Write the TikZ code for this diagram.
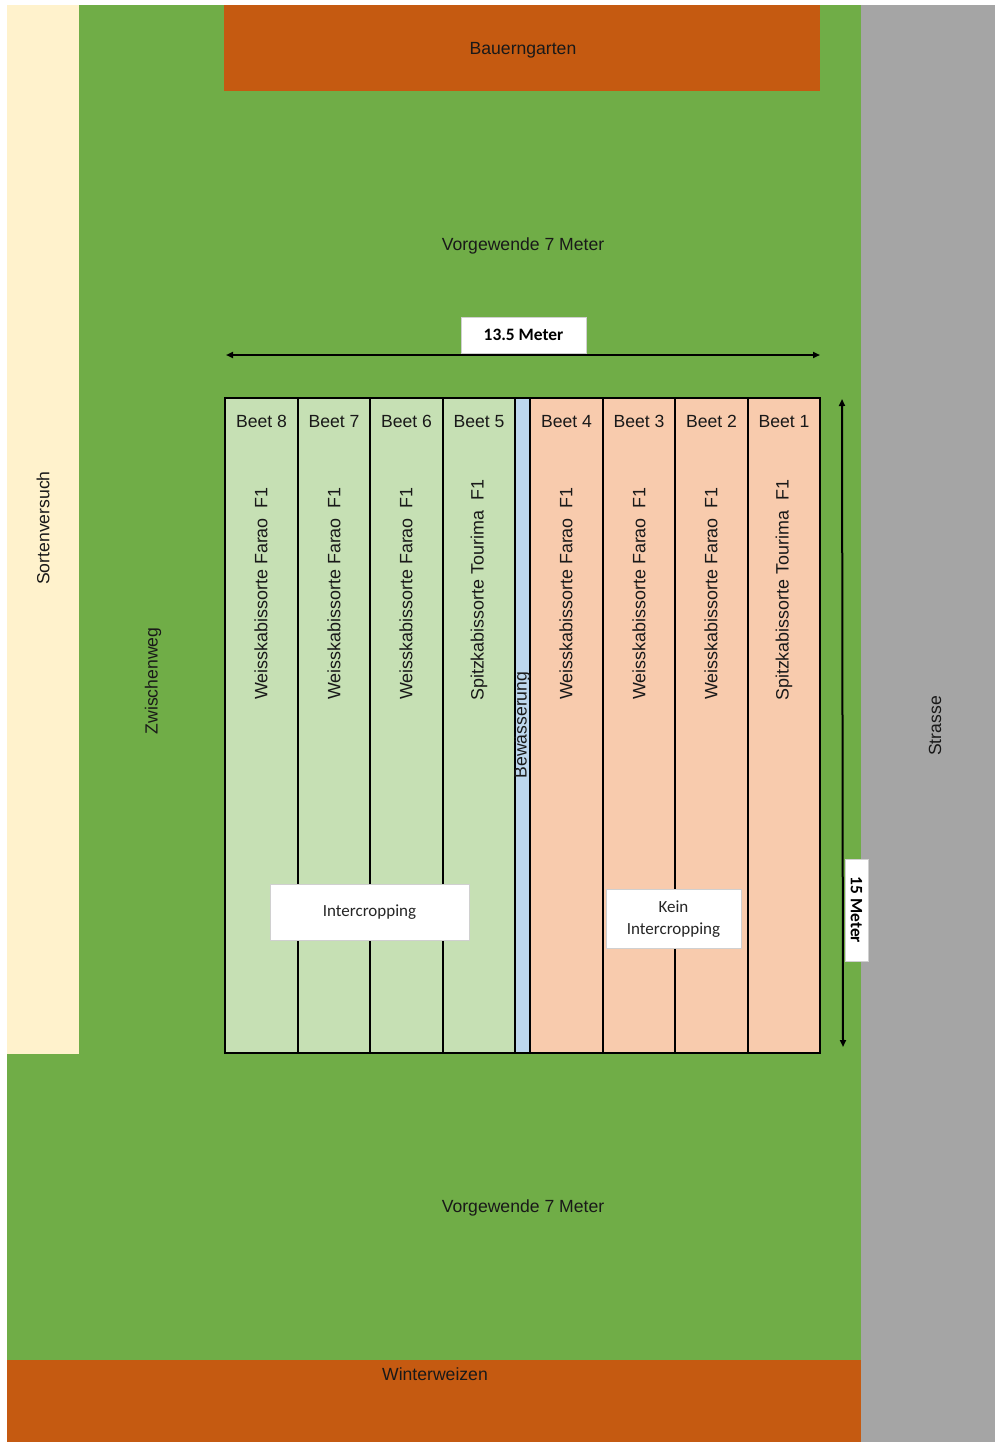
\documentclass[tikz,border=0pt]{standalone}
\usepackage{fontspec}
\setmainfont{Liberation Sans}
\newfontfamily\calib{Carlito}
\usetikzlibrary{arrows.meta}
\definecolor{feld}{HTML}{70AD47}
\definecolor{acker}{HTML}{C55A11}
\definecolor{creme}{HTML}{FFF2CC}
\definecolor{strasse}{HTML}{A5A5A5}
\definecolor{hgruen}{HTML}{C6E0B4}
\definecolor{pfirsich}{HTML}{F8CBAD}
\definecolor{wasser}{HTML}{BDD7EE}
\definecolor{rahmen}{HTML}{D0D0D0}
\tikzset{
  area/.style={draw=none, inner sep=0, outer sep=0},
  lbl/.style={inner sep=0, font=\fontsize{17.6}{21}\selectfont, text=black!90},
  vlbl/.style={lbl, font=\fontsize{17.9}{21}\selectfont, rotate=90, anchor=west},
  bedbox/.style={draw=black, line width=2pt, inner sep=0, outer sep=0, minimum width=72.5pt, minimum height=655pt},
  infobox/.style={draw=rahmen, line width=1pt, fill=white, inner sep=0, align=center, font=\calib\fontsize{17}{21.5}\selectfont, text=black!85},
  dimarrow/.style={line width=2pt, {Triangle[length=7pt,width=6pt]}-{Triangle[length=7pt,width=6pt]}}
}
\begin{document}
\begin{tikzpicture}[x=1pt,y=-1pt]
\useasboundingbox (0,0) rectangle (995,1442);
% background areas
\fill[white] (0,0) rectangle (995,1442);
\fill[feld] (79,5) rectangle (861,1360);
\fill[feld] (7,1053) rectangle (861,1360);
\fill[creme] (7,5) rectangle (79,1054);
\fill[strasse] (861,5) rectangle (995,1442);
\fill[acker] (224,5) rectangle (820,91);
\fill[acker] (7,1360) rectangle (861,1442);
% area labels
\node[lbl] (bauern) at (523,50) {Bauerngarten};
\node[lbl] (vgoben) at (523,246) {Vorgewende 7 Meter};
\node[lbl] (vgunten) at (523,1208) {Vorgewende 7 Meter};
\node[lbl] (winter) at (435,1374) {Winterweizen};
\node[lbl, rotate=90] (sorten) at (43,528) {Sortenversuch};
\node[lbl, rotate=90] (zwischen) at (153,681) {Zwischenweg};
\node[lbl, rotate=90] (str) at (935,726) {Strasse};
% beds
\node[bedbox, fill=hgruen] (b8) at (261.25,725.5) {};
\node[bedbox, fill=hgruen] (b7) at (333.75,725.5) {};
\node[bedbox, fill=hgruen] (b6) at (406.25,725.5) {};
\node[bedbox, fill=hgruen] (b5) at (478.75,725.5) {};
\node[draw=black, line width=2pt, fill=wasser, inner sep=0, outer sep=0, minimum width=15pt, minimum height=655pt] (bew) at (522.5,725.5) {};
\node[bedbox, fill=pfirsich] (b4) at (566.25,725.5) {};
\node[bedbox, fill=pfirsich] (b3) at (638.75,725.5) {};
\node[bedbox, fill=pfirsich] (b2) at (711.25,725.5) {};
\node[bedbox, fill=pfirsich] (b1) at (783.75,725.5) {};
% bed titles
\node[lbl] (t8) at (261.5,421.5) {Beet 8};
\node[lbl] (t7) at (334,421.5) {Beet 7};
\node[lbl] (t6) at (406.5,421.5) {Beet 6};
\node[lbl] (t5) at (479,421.5) {Beet 5};
\node[lbl] (t4) at (566.5,421.5) {Beet 4};
\node[lbl] (t3) at (639,421.5) {Beet 3};
\node[lbl] (t2) at (711.5,421.5) {Beet 2};
\node[lbl] (t1) at (784,421.5) {Beet 1};
% varieties
\node[vlbl] (s8) at (261,700) {Weisskabissorte Farao~~F1};
\node[vlbl] (s7) at (334,700) {Weisskabissorte Farao~~F1};
\node[vlbl] (s6) at (406,700) {Weisskabissorte Farao~~F1};
\node[vlbl] (s5) at (479,701) {Spitzkabissorte Tourima~~F1};
\node[vlbl] (s4) at (566,700) {Weisskabissorte Farao~~F1};
\node[vlbl] (s3) at (639,700) {Weisskabissorte Farao~~F1};
\node[vlbl] (s2) at (711,700) {Weisskabissorte Farao~~F1};
\node[vlbl] (s1) at (784,701) {Spitzkabissorte Tourima~~F1};
\node[lbl, rotate=90] (bewt) at (522.5,725) {Bewässerung};
% info boxes
\node[infobox, minimum width=199pt, minimum height=56pt] (inter) at (369.5,912.5) {Intercropping};
\node[infobox, minimum width=135pt, minimum height=59pt] (kein) at (673.5,919) {Kein\\Intercropping};
% dimensions
\coordinate (hL) at (226,355);
\coordinate (hR) at (820,355);
\draw[dimarrow] (hL) -- (hR);
\node[infobox, font=\calib\bfseries\fontsize{17.4}{20}\selectfont, text=black, minimum width=125pt, minimum height=36pt] (breite) at (523.5,335) {13.5 Meter};
\coordinate (vT) at (842,399);
\coordinate (vB) at (843,1047);
\draw[dimarrow] (vT) -- (vB);
\node[infobox, font=\calib\bfseries\fontsize{17.4}{20}\selectfont, text=black, rotate=-90, minimum width=102pt, minimum height=23pt] (laenge) at (856.5,910) {15 Meter};
\end{tikzpicture}
\end{document}
